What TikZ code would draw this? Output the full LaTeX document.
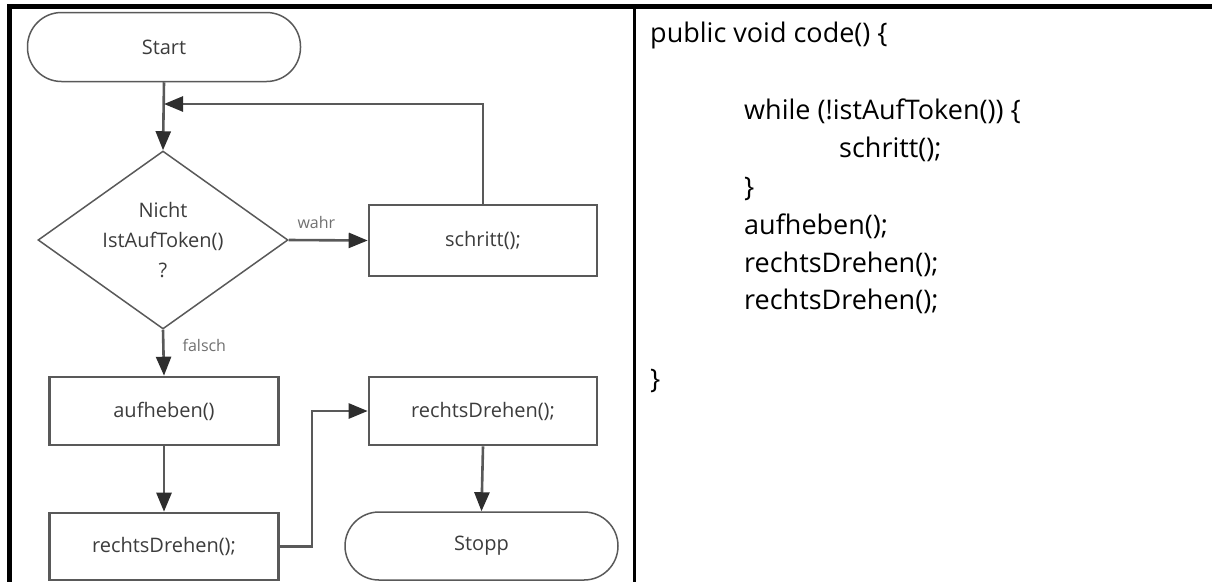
\documentclass[tikz,border=0pt]{standalone}
\usepackage{fontspec}
\setmainfont{Open Sans}
\usepackage{tikz}
\usetikzlibrary{shapes.geometric}
\usetikzlibrary{arrows.meta}
\definecolor{linie}{HTML}{595959}
\definecolor{spitze}{HTML}{2E2E2E}
\definecolor{schrift}{HTML}{3C3C3C}
\definecolor{grau}{HTML}{707070}

\begin{document}
\begin{tikzpicture}[x=1pt,y=-1pt,
 feld/.style={rectangle,draw=linie,line width=2.6pt,minimum width=228pt,minimum height=69pt,text=schrift,font=\fontsize{20}{24}\selectfont},
 ende/.style={rectangle,rounded corners=34pt,draw=linie,line width=1.5pt,minimum width=273pt,minimum height=69pt,text=schrift,font=\fontsize{20}{24}\selectfont},
 frage/.style={diamond,aspect=1.4,inner sep=0pt,draw=linie,line width=1.5pt,minimum width=250pt,minimum height=178pt,align=center,text=schrift,font=\fontsize{20}{30}\selectfont},
 pfeil/.style={draw=linie,line width=2.6pt,-{Triangle[length=19pt,width=15pt,color=spitze]}},
 marke/.style={text=grau,font=\fontsize{16}{18}\selectfont,inner sep=1pt},
 zeile/.style={anchor=base west,inner sep=0pt,font=\fontsize{27}{32}\selectfont}]
\useasboundingbox (0,0) rectangle (1212,582);
% Tabellenrahmen
\draw[line width=4.4pt] (7,6.5) -- (1212,6.5);
\draw[line width=4.4pt] (9.5,4.3) -- (9.5,582);
\draw[line width=2.7pt] (634.7,8) -- (634.7,582);
% Ablaufplan
\path (164,47) node(start)[ende]{Start}
(163,240) node(bed)[frage]{Nicht\\IstAufToken()\\?}
(483,240.5) node(schritt)[feld,minimum height=71pt]{schritt();}
(164,411) node(auf)[feld,minimum width=229pt,minimum height=68pt]{aufheben()}
(164,546.5) node(dreh)[feld,minimum width=229pt,minimum height=67pt]{rechtsDrehen();}
(483,411) node(dreh2)[feld,minimum height=68pt]{rechtsDrehen();}
(481.5,546) node(stopp)[ende,minimum height=68pt]{Stopp};
\coordinate (zurueck) at (164,104);
\coordinate (knick) at (312,546.5);
\draw[pfeil](start.south)--(bed.north);
\draw[pfeil](schritt.north)|-(zurueck);
\draw[pfeil](bed.east)--node[marke,pos=0.35,yshift=18pt]{wahr}(schritt.west);
\draw[pfeil](bed.south)--node[marke,pos=0.35,xshift=41pt]{falsch}(auf.north);
\draw[pfeil](auf.south)--(dreh.north);
\draw[pfeil](dreh.east)--(knick)|-(dreh2.west);
\draw[pfeil](dreh2.south)--(stopp.north);
% Quelltext
\path (650,42) node(z1)[zeile]{public void code() \{}
(744,119) node(z2)[zeile]{while (!istAufToken()) \{}
(839,157) node(z3)[zeile]{schritt();}
(744,196) node(z4)[zeile]{\}}
(744,234) node(z5)[zeile]{aufheben();}
(744,272) node(z6)[zeile]{rechtsDrehen();}
(744,309) node(z7)[zeile]{rechtsDrehen();}
(650,388) node(z8)[zeile]{\}};
\end{tikzpicture}
\end{document}
